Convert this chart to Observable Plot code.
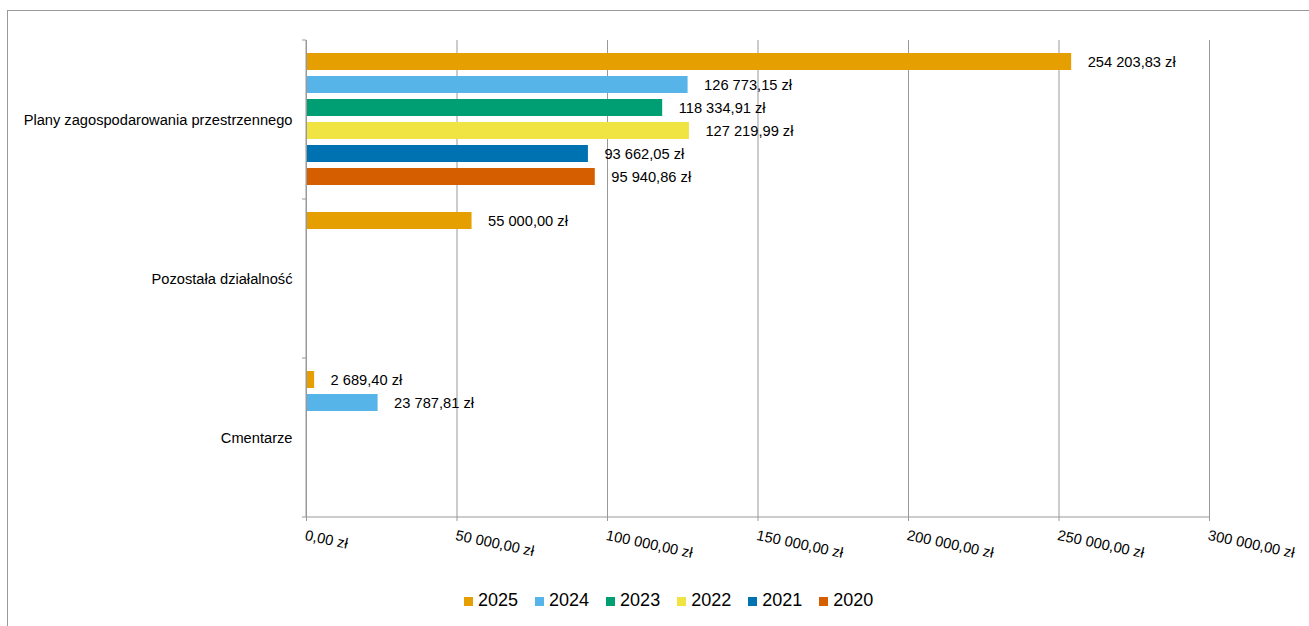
<!DOCTYPE html>
<html>
<head>
<meta charset="utf-8">
<script src="https://cdn.jsdelivr.net/npm/d3@7"></script>
<script src="https://cdn.jsdelivr.net/npm/@observablehq/plot@0.6"></script>
<style>
  html, body { margin: 0; padding: 0; background: #fff; overflow: hidden; width: 1309px; height: 626px; }
  #frame { position: absolute; left: 7px; top: 10px; width: 1320px; height: 640px; border: 1px solid #999; box-sizing: border-box; }
  #chart { position: absolute; left: 0; top: 0; }
  #legend { position: absolute; left: 464px; top: 590px; display: flex; align-items: baseline; font-family: "Liberation Sans", Arial, sans-serif; font-size: 18px; color: #000; }
  #legend .item { display: flex; align-items: baseline; margin-right: 17px; }
  #legend .sw { width: 9px; height: 9px; margin-right: 5px; display: inline-block; }
</style>
</head>
<body>
<div id="frame"></div>
<div id="chart"></div>
<div id="legend"></div>
<script>
const categories = ["Plany zagospodarowania przestrzennego", "Pozostała działalność", "Cmentarze"];
const years = ["2025", "2024", "2023", "2022", "2021", "2020"];
const colors = ["#E69F00", "#56B4E9", "#009E73", "#F0E442", "#0072B2", "#D55E00"];
// values per year, in the order of categories (null = no bar)
const v2025 = [254203.83, 55000.00, 2689.40];
const v2024 = [126773.15, null, 23787.81];
const v2023 = [118334.91, null, null];
const v2022 = [127219.99, null, null];
const v2021 = [93662.05, null, null];
const v2020 = [95940.86, null, null];
const xTicks = [0, 50000, 100000, 150000, 200000, 250000, 300000];

const series = {"2025": v2025, "2024": v2024, "2023": v2023, "2022": v2022, "2021": v2021, "2020": v2020};
const data = [];
categories.forEach((c, i) => {
  years.forEach(y => {
    const v = series[y][i];
    if (v != null) data.push({category: c, year: y, value: v});
  });
});

const locale = d3.formatLocale({decimal: ",", thousands: " ", grouping: [3], currency: ["", " zł"]});
const f2 = locale.format(",.2f");
const fmt = v => f2(v) + " zł";

const font = "Liberation Sans, Arial, sans-serif";
const W = 1309, H = 575;

const plot = Plot.plot({
  width: W,
  height: H,
  marginTop: 40,
  marginBottom: 58,
  marginLeft: 306,
  marginRight: 100,
  style: {fontFamily: font, fontSize: "14.67px", color: "#000", background: "transparent", overflow: "visible"},
  x: {domain: [0, 300000]},
  y: {domain: years, paddingInner: 0.243, paddingOuter: 0.577, axis: null},
  fy: {domain: categories, padding: 0},
  color: {domain: years, range: colors},
  marks: [
    Plot.gridX({ticks: xTicks, stroke: "#999", strokeOpacity: 1, strokeWidth: 1}),
    Plot.barX(data, {fy: "category", y: "year", x: "value", fill: "year"}),
    Plot.text(data, {fy: "category", y: "year", x: "value", text: d => fmt(d.value), textAnchor: "start", dx: 16, fontSize: 14.67, fill: "#000"}),
    Plot.axisX({anchor: "bottom", ticks: xTicks, tickFormat: fmt, tickSize: 4, tickPadding: 8, tickRotate: 12, textAnchor: "start", lineAnchor: "top", stroke: "#999", fill: "#000", fontSize: 14.67, label: null}),
    Plot.axisFy({anchor: "left", tickSize: 0, tickPadding: 14, fontSize: 14.67, fill: "#000", label: null}),
    Plot.ruleX([0], {stroke: "#999"})
  ]
});

// axis lines and category boundary ticks, positioned from the plot's own scales
const xs = plot.scale("x");
const fys = plot.scale("fy");
const svg = d3.select(plot);
const g = svg.append("g").attr("stroke", "#999").attr("fill", "none");
const x0 = xs.apply(0), x1 = xs.apply(300000);
const bw = fys.bandwidth;
const bounds = categories.map(c => fys.apply(c));
bounds.push(fys.apply(categories[categories.length - 1]) + bw);
bounds.forEach(b => {
  g.append("line").attr("x1", x0 - 4).attr("x2", x0).attr("y1", b).attr("y2", b);
});
const yb = bounds[bounds.length - 1];
g.append("line").attr("x1", x0).attr("x2", x1).attr("y1", yb).attr("y2", yb);
g.append("line").attr("x1", x0).attr("x2", x0).attr("y1", bounds[0]).attr("y2", yb);

document.getElementById("chart").appendChild(plot);

const legend = document.getElementById("legend");
years.forEach((y, i) => {
  const item = document.createElement("div");
  item.className = "item";
  const sw = document.createElement("span");
  sw.className = "sw";
  sw.style.background = colors[i];
  const t = document.createElement("span");
  t.textContent = y;
  item.appendChild(sw);
  item.appendChild(t);
  legend.appendChild(item);
});
</script>
</body>
</html>
